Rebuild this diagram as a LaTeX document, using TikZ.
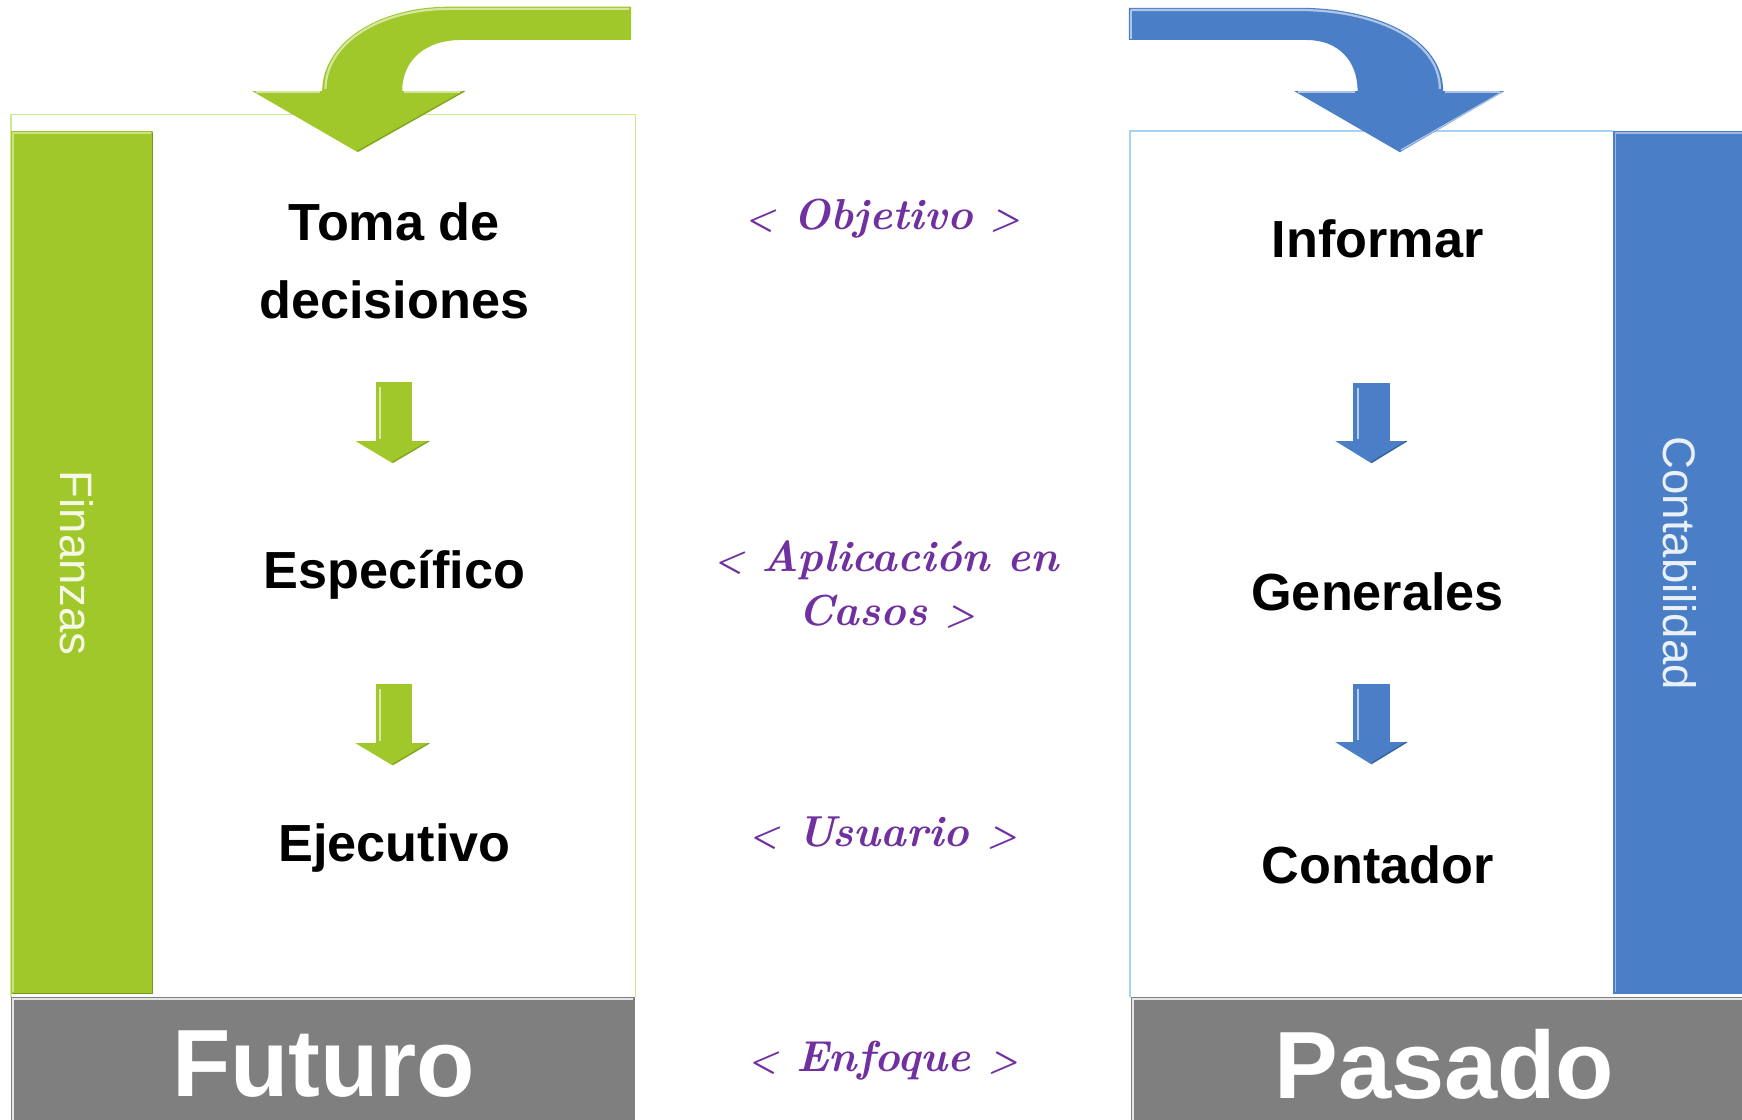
\documentclass[tikz,border=0pt]{standalone}
\usepackage{fontspec}
\newfontfamily\arial{Liberation Sans}
\definecolor{fgreen}{HTML}{A0C82A}
\definecolor{fgreenlight}{HTML}{CDEB8E}
\definecolor{fblue}{HTML}{4A7FC8}
\definecolor{fbluelight}{HTML}{A8D2F2}
\definecolor{fgrey}{HTML}{7F7F7F}
\definecolor{fpurple}{HTML}{7030A0}
\newcommand\chev[1]{{\fontsize{30}{30}\selectfont #1}}
\tikzset{
  maintext/.style={font=\arial\bfseries\fontsize{47}{70}\selectfont, text=black, align=center, inner sep=0pt},
  bartext/.style={font=\arial\bfseries\fontsize{86}{90}\selectfont, text=white, inner sep=0pt},
  sidetext/.style={font=\arial\fontsize{41}{45}\selectfont, rotate=-90, inner sep=0pt},
  handtext/.style={font=\bfseries\itshape\fontsize{39}{48}\selectfont, text=fpurple, align=center, inner sep=0pt},
}
\begin{document}
\begin{tikzpicture}[x=1pt,y=-1pt]
\useasboundingbox (0,0) rectangle (1568,1008);
\fill[white] (0,0) rectangle (1568,1008);

% ---------- left panel ----------
\draw[fgreenlight, line width=1.5] (10,897) -- (10,103) -- (572,103) -- (572,897);
\fill[fgreen] (10,118) rectangle (138,895);
\draw[fgreen!55!white, line width=1.5] (12,893) -- (12,120) -- (136,120);
\draw[fgreen!75!black, line width=1.2] (12,894) -- (137,894) -- (137,120);
\fill[fgrey] (10,897) rectangle (572,1008);
\draw[white!80!fgrey, line width=1.5] (12,1008) -- (12,899) -- (570,899);

% curved green arrow
\fill[fgreen] (568,6) -- (405,6) .. controls (338,6) and (290,40) .. (290,82)
  -- (227,82) -- (322,137) -- (419,82) -- (362,82)
  .. controls (362,55) and (382,36) .. (415,36) -- (568,36) -- cycle;
\draw[fgreen!45!white, line width=2] (566,8) -- (405,8) .. controls (340,8) and (293,40) .. (293,80);
\draw[fgreen!45!white, line width=1.5] (230,83) -- (288,83);
\draw[fgreen!45!white, line width=1.5] (364,83) -- (414,83);
\draw[fgreen!80!black, line width=1] (322,136) -- (418,82);

% small green arrows
\foreach \dy in {0,272}{
  \fill[fgreen] (338.5,344+\dy) rectangle (370.5,397+\dy);
  \fill[fgreen] (320,397+\dy) -- (387,397+\dy) -- (353.5,417+\dy) -- cycle;
  \draw[fgreen!40!white, line width=2] (342,348+\dy) -- (342,395+\dy);
  \draw[fgreen!80!black, line width=1] (353.5,416+\dy) -- (386,397+\dy);
}

\node[maintext] (toma) at (355,235) {Toma de\\decisiones};
\node[maintext] (espec) at (355,517) {Específico};
\node[maintext] (ejec) at (355,763) {Ejecutivo};
\node[sidetext, text=white!88!fgreen] (fin) at (69,507) {Finanzas};
\node[bartext] (fut) at (291,958) {Futuro};

% ---------- right panel ----------
\draw[fbluelight, line width=1.5] (1017,897) -- (1017,118) -- (1452,118);
\fill[fblue] (1452,118) rectangle (1568,895);
\draw[fblue!55!white, line width=1.5] (1454,893) -- (1454,120) -- (1568,120);
\fill[fgrey] (1018,897) rectangle (1568,1008);
\draw[white!80!fgrey, line width=1.5] (1020,1008) -- (1020,899) -- (1568,899);

% curved blue arrow
\fill[fblue] (1016,7) -- (1169,7) .. controls (1240,7) and (1299,35) .. (1299,82)
  -- (1354,82) -- (1260,137) -- (1165,82) -- (1222,82)
  .. controls (1222,55) and (1205,36) .. (1176,36) -- (1016,36) -- cycle;
\draw[fblue!45!white, line width=2] (1018,9) -- (1169,9) .. controls (1238,9) and (1296,36) .. (1296,80);
\draw[fblue!45!white, line width=1.5] (1168,83) -- (1220,83);
\draw[fblue!45!white, line width=1.5] (1301,83) -- (1350,83);
\draw[fblue!45!white, line width=1.2] (1261,135) -- (1352,83);
\draw[fblue!45!white, line width=1.5] (1018,9) -- (1018,35);

% small blue arrows
\foreach \dy in {0,271}{
  \fill[fblue] (1218,345+\dy) rectangle (1251,397+\dy);
  \fill[fblue] (1202,397+\dy) -- (1267,397+\dy) -- (1234.5,417+\dy) -- cycle;
  \draw[fblue!40!white, line width=2] (1222,349+\dy) -- (1222,395+\dy);
  \draw[fblue!75!black, line width=1] (1234.5,416+\dy) -- (1266,397+\dy);
}

\node[maintext] (inf) at (1240,215) {Informar};
\node[maintext] (gen) at (1240,533) {Generales};
\node[maintext] (cont) at (1240,778) {Contador};
\node[sidetext, text=white!88!fblue] (conta) at (1512,507) {Contabilidad};
\node[bartext] (pas) at (1300,958) {Pasado};

% ---------- middle ----------
\node[handtext] (obj) at (795,197) {\chev{<} Objetivo \chev{>}};
\node[handtext] (apl) at (798,526) {\chev{<} Aplicación en\\Casos \chev{>}};
\node[handtext] (usu) at (795,750) {\chev{<} Usuario \chev{>}};
\node[handtext] (enf) at (795,955) {\chev{<} Enfoque \chev{>}};
\end{tikzpicture}
\end{document}
